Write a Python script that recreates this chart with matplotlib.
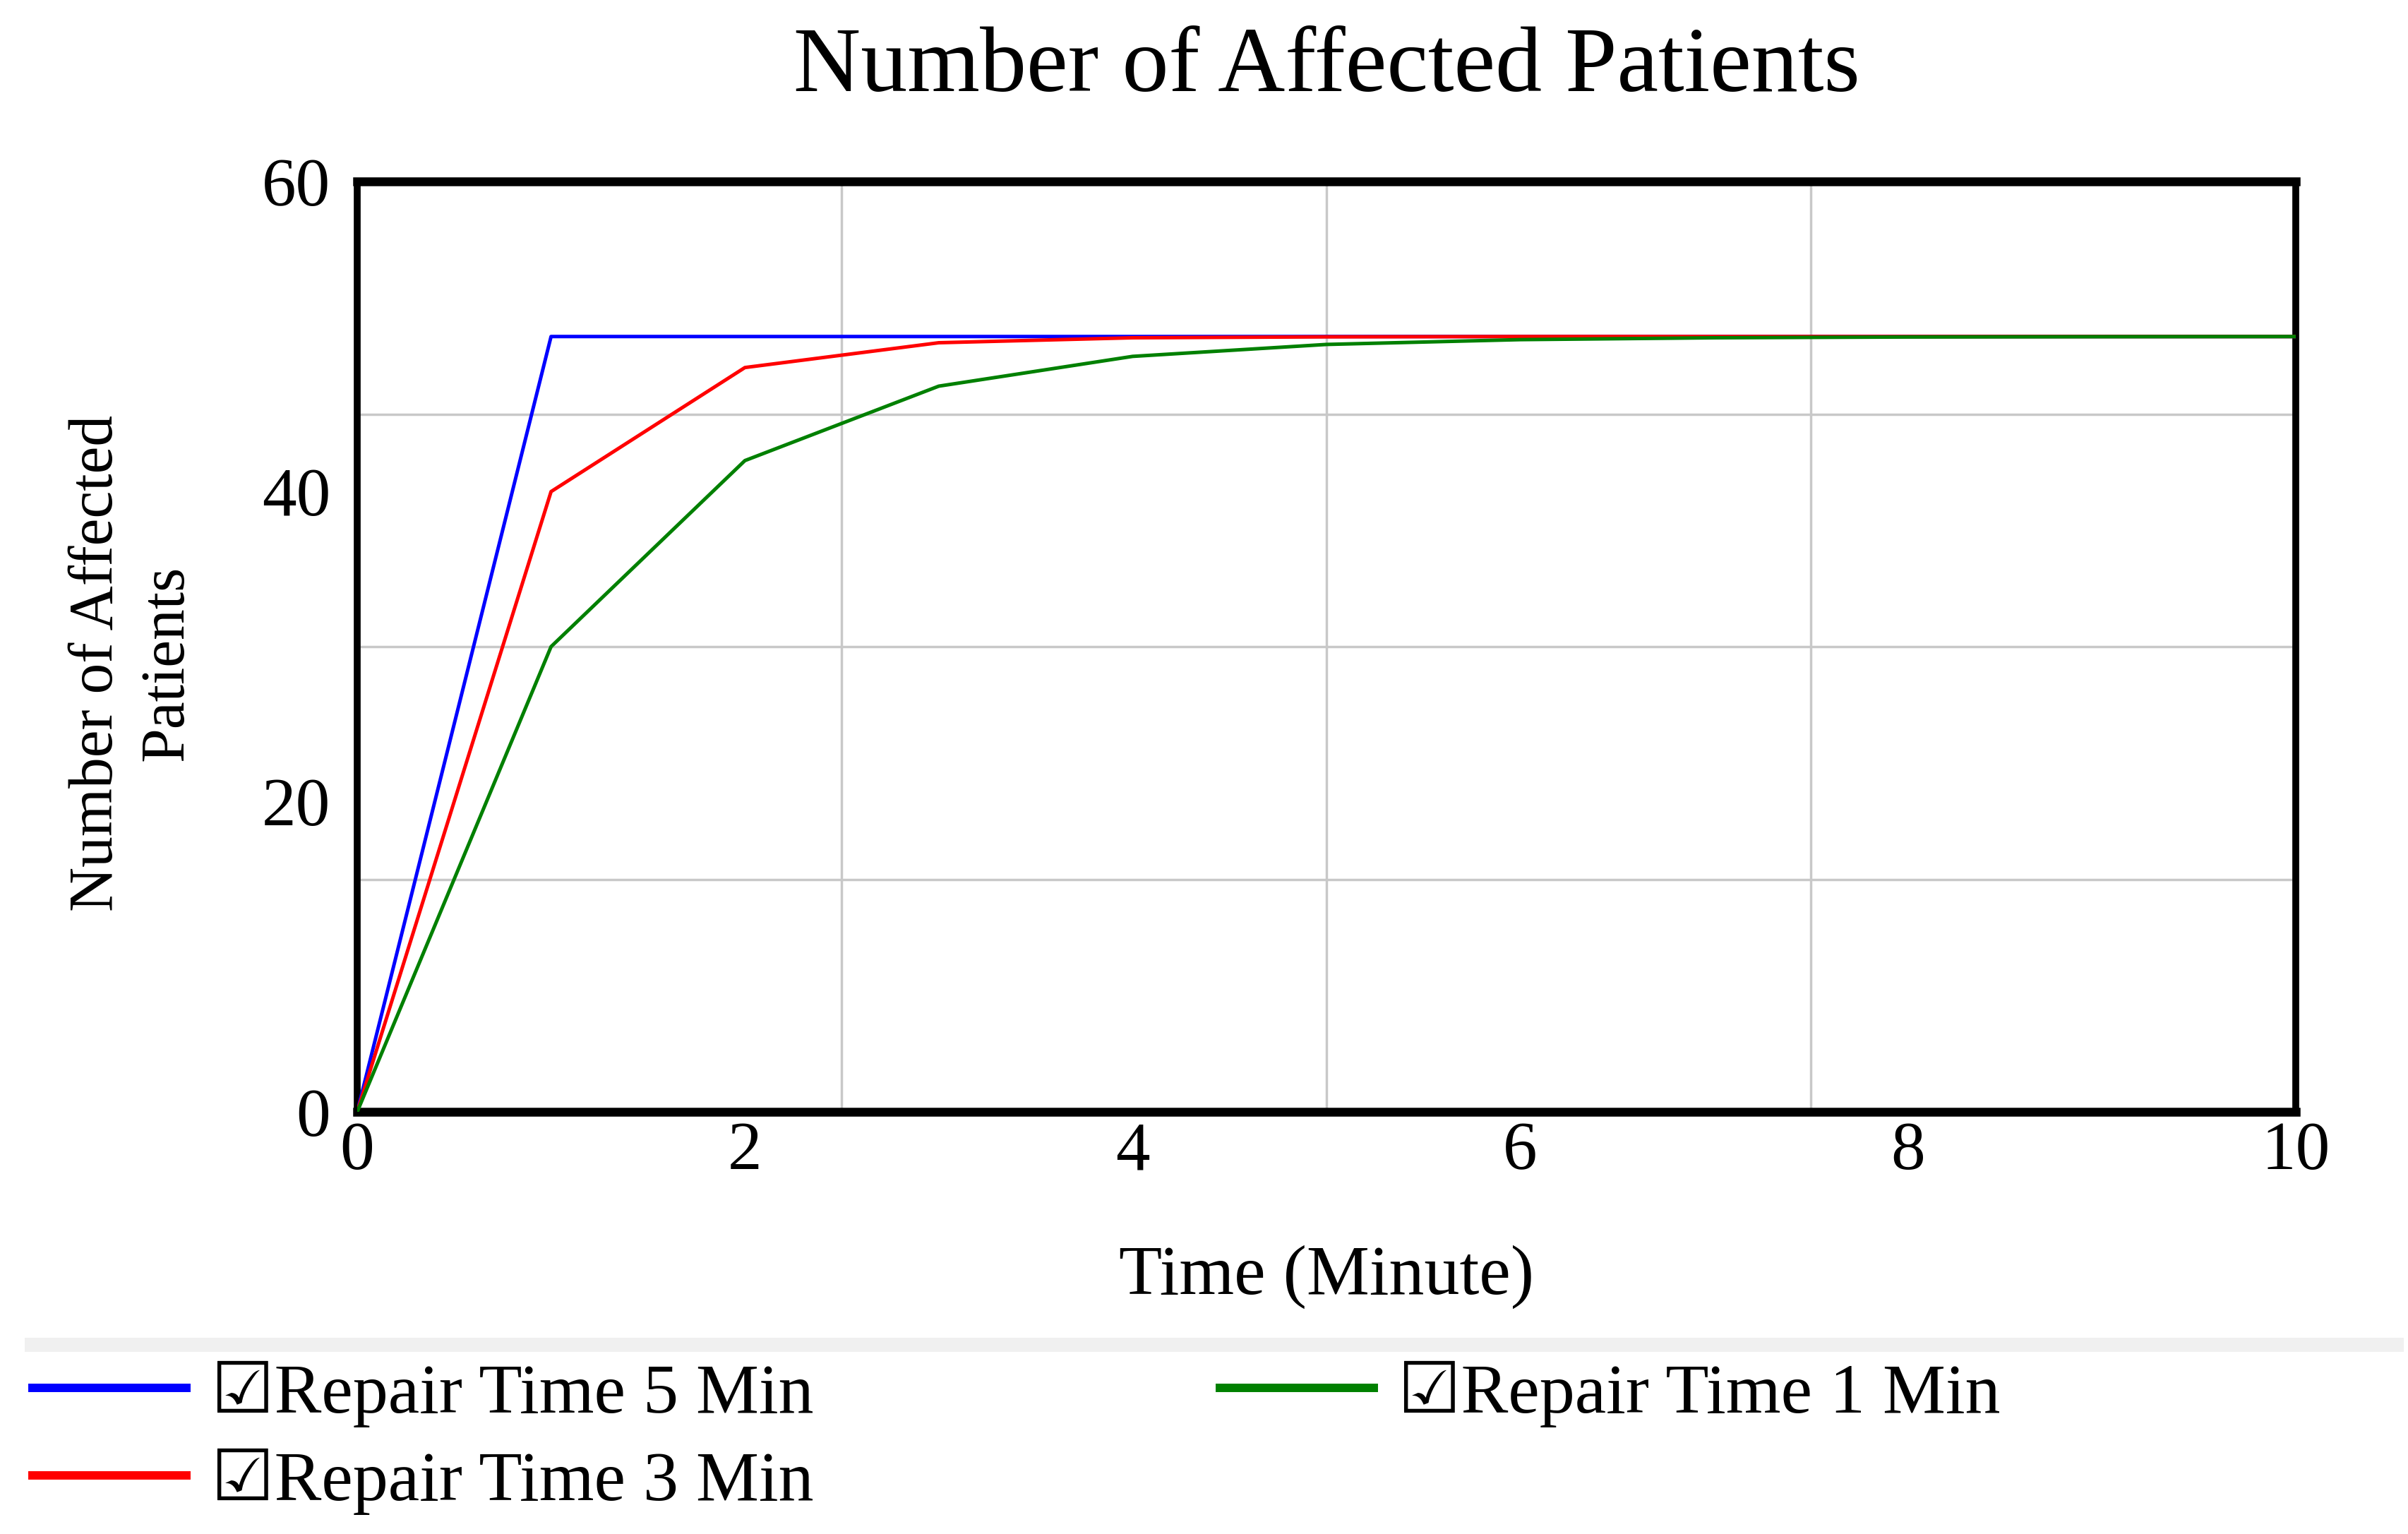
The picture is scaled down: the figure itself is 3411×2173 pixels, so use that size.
import matplotlib
matplotlib.use("Agg")
import matplotlib.pyplot as plt
from matplotlib.patches import Rectangle

# values (Time in minutes)
time = [0, 1, 2, 3, 4, 5, 6, 7, 8, 9, 10]
repair_5 = [0, 50, 50, 50, 50, 50, 50, 50, 50, 50, 50]
repair_3 = [0, 40, 48, 49.6, 49.92, 49.98, 50, 50, 50, 50, 50]
repair_1 = [0, 30, 42, 46.8, 48.72, 49.49, 49.8, 49.92, 49.97, 49.99, 50]

series = [
    ("Repair Time 5 Min", repair_5, "#0000ff"),
    ("Repair Time 3 Min", repair_3, "#ff0000"),
    ("Repair Time 1 Min", repair_1, "#008000"),
]

x_ticks = [0, 2, 4, 6, 8, 10]
y_ticks = [0, 20, 40, 60]
x_grid = [2.5, 5, 7.5]
y_grid = [15, 30, 45]

plt.rcParams["font.family"] = ["Liberation Serif", "DejaVu Sans"]

figure = plt.figure(figsize=(34.12, 21.73), dpi=100)
axes = figure.add_axes([0.1483, 0.2752, 0.8048, 0.6065])

for xg in x_grid:
    axes.axvline(xg, color="#c8c8c8", linewidth=2.5, zorder=1)
for yg in y_grid:
    axes.axhline(yg, color="#c8c8c8", linewidth=2.5, zorder=1)

handles = []
for label, values, color in series:
    line, = axes.plot(time, values, color=color, linewidth=3.6, zorder=3)
    handles.append(line)

axes.set_xlim(0, 10)
axes.set_ylim(0, 60)
axes.set_xticks(x_ticks)
axes.set_yticks(y_ticks)
axes.tick_params(axis="both", length=0, labelsize=70)
axes.tick_params(axis="x", pad=10)
axes.tick_params(axis="y", pad=27)

for side in ["top", "bottom"]:
    axes.spines[side].set_linewidth(9)
for side in ["left", "right"]:
    axes.spines[side].set_linewidth(7)

axes.set_title("Number of Affected Patients", fontsize=95, pad=92)
axes.set_xlabel("Time (Minute)", fontsize=72)
axes.xaxis.set_label_coords(0.5, -0.143)
axes.set_ylabel("Number of Affected\nPatients", fontsize=63, va="center",
                linespacing=1.3)
axes.yaxis.set_label_coords(-0.116, 0.482)

# light grey separator above the legend
figure.add_artist(Rectangle((35 / 3412, 1 - 1915 / 2173), 3370 / 3412, 20 / 2173,
                            transform=figure.transFigure, facecolor="#f0f0f0",
                            edgecolor="none"))

legend_handles = []
for h in handles:
    proxy, = axes.plot([], [], color=h.get_color(), linewidth=8.6)
    legend_handles.append(proxy)

figure.legend(legend_handles, ["\u2611" + s[0] for s in series], ncol=2,
              loc="upper left", bbox_to_anchor=(46 / 3412, 0.113),
              frameon=False, fontsize=72, handlelength=2.18,
              handletextpad=0.35, columnspacing=5.75, labelspacing=0.3,
              borderpad=0, borderaxespad=0)

figure.savefig("out.png", dpi=100)
